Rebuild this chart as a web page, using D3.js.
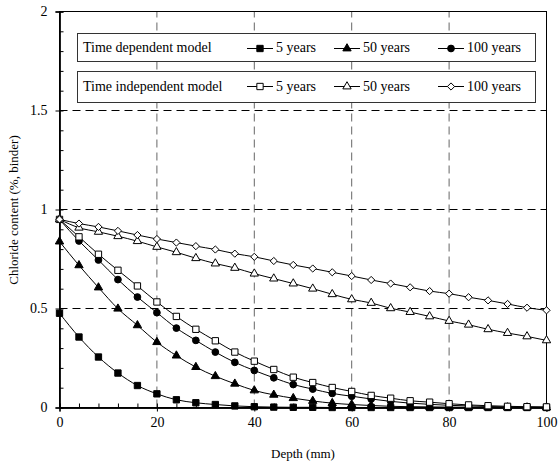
<!DOCTYPE html>
<html lang="en">
<head>
<meta charset="UTF-8">
<title>Chloride content</title>
<script src="https://cdn.jsdelivr.net/npm/d3@7"></script>
<style>
  html, body { margin: 0; padding: 0; background: #fff; }
  svg { display: block; font-family: "Liberation Serif", "DejaVu Serif", serif; }
</style>
</head>
<body>
<svg id="chart" width="558" height="468"></svg>
<script>
// depth (mm)
var depth = [0,4,8,12,16,20,24,28,32,36,40,44,48,52,56,60,64,68,72,76,80,84,88,92,96,100];

// time dependent model
var td5   = [0.476,0.356,0.255,0.174,0.111,0.069,0.039,0.024,0.015,0.008,0.004,0.002,0.001,0.001,0,0,0,0,0,0,0,0,0,0,0,0];
var td50  = [0.838,0.718,0.606,0.499,0.415,0.330,0.262,0.204,0.158,0.120,0.086,0.064,0.047,0.033,0.022,0.015,0.010,0.006,0.004,0.003,0.002,0.001,0.001,0,0,0];
var td100 = [0.950,0.841,0.745,0.646,0.558,0.479,0.401,0.339,0.280,0.228,0.187,0.150,0.116,0.093,0.071,0.057,0.043,0.031,0.022,0.016,0.011,0.008,0.005,0.003,0.002,0.001];

// time independent model
var ti5   = [0.950,0.862,0.774,0.693,0.614,0.533,0.460,0.395,0.337,0.280,0.234,0.192,0.153,0.126,0.101,0.081,0.061,0.047,0.034,0.027,0.019,0.013,0.009,0.006,0.004,0.003];
var ti50  = [0.950,0.908,0.887,0.865,0.840,0.811,0.784,0.754,0.727,0.705,0.676,0.651,0.626,0.600,0.572,0.546,0.528,0.501,0.482,0.460,0.437,0.418,0.395,0.376,0.359,0.339];
var ti100 = [0.950,0.929,0.912,0.892,0.871,0.851,0.833,0.815,0.798,0.777,0.761,0.740,0.720,0.702,0.683,0.664,0.644,0.626,0.607,0.588,0.575,0.557,0.541,0.523,0.504,0.491];

var xTicks = [0,20,40,60,80,100];
var yTicks = [0,0.5,1,1.5,2];
var yLabels = ["0","0.5","1","1.5","2"];
var legendYears = ["5 years","50 years","100 years"];
var legendTitles = ["Time dependent model","Time independent model"];

var svg = d3.select("#chart");

var x = d3.scaleLinear().domain([0,100]).range([59.5,546.5]);
var y = d3.scaleLinear().domain([0,2]).range([407.5,11.5]);

// grid lines
var grid = svg.append("g");
grid.selectAll("line.v").data([20,40,60,80]).enter().append("line")
    .attr("x1", d => x(d)).attr("x2", d => x(d))
    .attr("y1", y(0)).attr("y2", y(2))
    .attr("stroke", "#666").attr("stroke-width", 1).attr("stroke-dasharray", "8,5");
grid.selectAll("line.h").data([0.5,1,1.5]).enter().append("line")
    .attr("x1", x(0)).attr("x2", x(100))
    .attr("y1", d => y(d)).attr("y2", d => y(d))
    .attr("stroke", "#000").attr("stroke-width", 1).attr("stroke-dasharray", "8,5");

// frame
svg.append("rect")
    .attr("x", x(0)).attr("y", y(2))
    .attr("width", x(100) - x(0)).attr("height", y(0) - y(2))
    .attr("fill", "none").attr("stroke", "#000").attr("stroke-width", 1);

// axes
var xAxis = svg.append("g").attr("transform", "translate(0," + y(0) + ")")
    .call(d3.axisBottom(x).tickValues(xTicks).tickSize(4).tickPadding(6).tickFormat(d3.format("d")));
svg.append("g").attr("transform", "translate(0," + y(0) + ")")
    .call(d3.axisTop(x).tickValues(depth).tickSize(4).tickFormat(""));
var yAxis = svg.append("g").attr("transform", "translate(" + x(0) + ",0)")
    .call(d3.axisLeft(y).tickValues(yTicks).tickSize(4).tickPadding(8).tickFormat((d,i) => yLabels[i]));
svg.append("g").attr("transform", "translate(" + x(0) + ",0)")
    .call(d3.axisRight(y).tickValues(d3.range(0, 2.001, 0.1)).tickSize(4).tickFormat(""));

svg.selectAll(".domain").attr("stroke", "#000").attr("stroke-width", 1.3);
svg.selectAll(".tick line").attr("stroke", "#000");
svg.selectAll(".tick text").attr("font-family", "Liberation Serif").attr("font-size", 14).attr("fill", "#000");

// axis titles
svg.append("text").attr("x", 303).attr("y", 458).attr("text-anchor", "middle")
    .attr("font-size", 13).text("Depth (mm)");
svg.append("text").attr("transform", "translate(18,210) rotate(-90)").attr("text-anchor", "middle")
    .attr("font-size", 13).text("Chloride content (%, binder)");

// markers
function diamond(r) {
  return "M0," + (-r) + "L" + r + ",0L0," + r + "L" + (-r) + ",0Z";
}
var markers = {
  sq:   d3.symbol().type(d3.symbolSquare).size(40)(),
  tri:  d3.symbol().type(d3.symbolTriangle).size(30)(),
  circ: d3.symbol().type(d3.symbolCircle).size(36)(),
  dia:  diamond(3.6)
};

var series = [
  {v: td5,   m: "sq",   fill: "#000"},
  {v: td50,  m: "tri",  fill: "#000"},
  {v: td100, m: "circ", fill: "#000"},
  {v: ti5,   m: "sq",   fill: "#fff"},
  {v: ti50,  m: "tri",  fill: "#fff"},
  {v: ti100, m: "dia",  fill: "#fff"}
];

var line = d3.line()
    .x((d,i) => x(depth[i]))
    .y(d => y(d))
    .curve(d3.curveMonotoneX);

series.forEach(function(s) {
  var g = svg.append("g");
  g.append("path").attr("d", line(s.v))
      .attr("fill", "none").attr("stroke", "#000").attr("stroke-width", 1);
  g.selectAll("path.pt").data(s.v).enter().append("path")
      .attr("class", "pt")
      .attr("transform", (d,i) => "translate(" + x(depth[i]) + "," + y(d) + ")")
      .attr("d", markers[s.m])
      .attr("fill", s.fill).attr("stroke", "#000").attr("stroke-width", 1);
});

// legend
var boxes = [{y0: 33.5, y1: 61.5, ty: 52, ly: 48.5}, {y0: 71.5, y1: 102.5, ty: 91, ly: 86.5}];
var textX = [276, 363, 467];
boxes.forEach(function(b, r) {
  var g = svg.append("g");
  g.append("rect").attr("x", 77.5).attr("y", b.y0)
      .attr("width", 458).attr("height", b.y1 - b.y0)
      .attr("fill", "#fff").attr("stroke", "#333").attr("stroke-width", 1);
  g.append("text").attr("x", 83).attr("y", b.ty).attr("font-size", 14).text(legendTitles[r]);
  legendYears.forEach(function(t, k) {
    var s = series[r * 3 + k];
    var x1 = textX[k] - 3, x0 = x1 - 26, xm = (x0 + x1) / 2;
    g.append("line").attr("x1", x0).attr("x2", x1).attr("y1", b.ly).attr("y2", b.ly)
        .attr("stroke", "#000").attr("stroke-width", 1);
    g.append("path").attr("transform", "translate(" + xm + "," + b.ly + ")")
        .attr("d", markers[s.m]).attr("fill", s.fill).attr("stroke", "#000").attr("stroke-width", 1);
    g.append("text").attr("x", textX[k]).attr("y", b.ty).attr("font-size", 14).text(t);
  });
});
</script>
</body>
</html>
